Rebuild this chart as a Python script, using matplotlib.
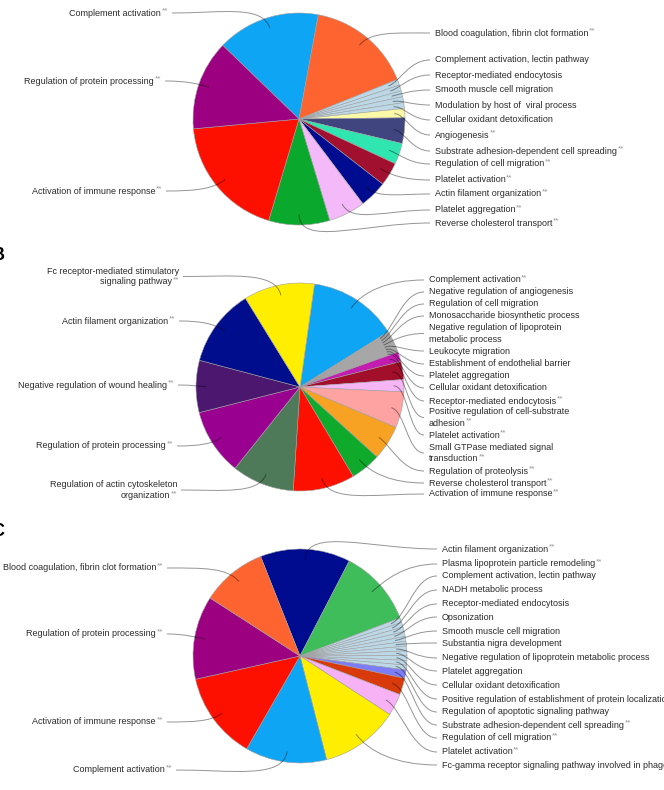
import numpy as np
import matplotlib
matplotlib.use('Agg')
import matplotlib.pyplot as plt
from matplotlib.path import Path
from matplotlib.patches import PathPatch

W, H = 664, 790

##################################
#            DADOS               #
##################################

## painel A
names_a = ['Complement activation', 'Blood coagulation, fibrin clot formation',
           'Complement activation, lectin pathway', 'Receptor-mediated endocytosis',
           'Smooth muscle cell migration', 'Modulation by host of  viral process',
           'Cellular oxidant detoxification', 'Angiogenesis',
           'Substrate adhesion-dependent cell spreading', 'Regulation of cell migration',
           'Platelet activation', 'Actin filament organization', 'Platelet aggregation',
           'Reverse cholesterol transport', 'Activation of immune response',
           'Regulation of protein processing']
vals_a = [15.7, 16.0, 0.9, 0.9, 0.9, 0.9, 0.9, 1.4, 3.9, 3.2, 3.6, 4.2, 5.6, 9.3, 18.9, 13.7]
sig_a = [1, 1, 0, 0, 0, 0, 0, 1, 1, 1, 1, 1, 1, 1, 1, 1]
cols_a = ['#0ea6f4', '#fe6430', '#bcd7e6', '#bcd7e6', '#bcd7e6', '#bcd7e6', '#bcd7e6',
          '#fbf8a8', '#40457f', '#2fe6b0', '#a1102e', '#000c8f', '#f3b9f8', '#0aa82c',
          '#fe1000', '#9c0080']

## painel B
names_b = ['Complement activation', 'Negative regulation of angiogenesis',
           'Regulation of cell migration', 'Monosaccharide biosynthetic process',
           'Negative regulation of lipoprotein\nmetabolic process', 'Leukocyte migration',
           'Establishment of endothelial barrier', 'Platelet aggregation',
           'Cellular oxidant detoxification', 'Receptor-mediated endocytosis',
           'Positive regulation of cell-substrate\nadhesion', 'Platelet activation',
           'Small GTPase mediated signal\ntransduction', 'Regulation of proteolysis',
           'Reverse cholesterol transport', 'Activation of immune response',
           'Regulation of actin cytoskeleton\norganization', 'Regulation of protein processing',
           'Negative regulation of wound healing', 'Actin filament organization',
           'Fc receptor-mediated stimulatory\nsignaling pathway']
vals_b = [13.9, 0.43, 0.43, 0.43, 0.43, 0.43, 0.43, 0.43, 0.43, 1.5, 2.8, 1.9, 5.6, 5.4,
          4.7, 9.6, 9.7, 10.3, 8.1, 12.1, 11.0]
sig_b = [1, 0, 0, 0, 0, 0, 0, 0, 0, 1, 1, 1, 1, 1, 1, 1, 1, 1, 1, 1, 1]
cols_b = ['#0ea6f4', '#a9a9a9', '#a9a9a9', '#a9a9a9', '#a9a9a9', '#a9a9a9', '#a9a9a9',
          '#a9a9a9', '#a9a9a9', '#c21cb0', '#a10f2b', '#f6b6f6', '#ffa2a2', '#f8a224',
          '#0faa2c', '#fe1000', '#4e7a5a', '#9a0090', '#4c176e', '#000d8c', '#ffee00']

## painel C
names_c = ['Actin filament organization', 'Plasma lipoprotein particle remodeling',
           'Complement activation, lectin pathway', 'NADH metabolic process',
           'Receptor-mediated endocytosis', 'Opsonization', 'Smooth muscle cell migration',
           'Substantia nigra development', 'Negative regulation of lipoprotein metabolic process',
           'Platelet aggregation', 'Cellular oxidant detoxification',
           'Positive regulation of establishment of protein localization',
           'Regulation of apoptotic signaling pathway',
           'Substrate adhesion-dependent cell spreading', 'Regulation of cell migration',
           'Platelet activation', 'Fc-gamma receptor signaling pathway involved in phagocytosis',
           'Complement activation', 'Activation of immune response',
           'Regulation of protein processing', 'Blood coagulation, fibrin clot formation']
vals_c = [13.5, 11.5, 0.71, 0.71, 0.71, 0.71, 0.71, 0.71, 0.71, 0.71, 0.71, 0.71, 0.71,
          1.25, 2.5, 3.3, 11.7, 12.2, 13.1, 12.5, 9.8]
sig_c = [1, 1, 0, 0, 0, 0, 0, 0, 0, 0, 0, 0, 0, 1, 1, 1, 0, 1, 1, 1, 1]
cols_c = ['#000c8f', '#3fbd5a', '#bcd7e6', '#bcd7e6', '#bcd7e6', '#bcd7e6', '#bcd7e6',
          '#bcd7e6', '#bcd7e6', '#bcd7e6', '#bcd7e6', '#bcd7e6', '#bcd7e6', '#7b7cf6',
          '#d83a0c', '#f6b2f4', '#ffee00', '#0ea6f4', '#fe1000', '#9c0080', '#fe6430']

##################################
#           LAYOUT               #
##################################

# (centro x, centro y, raio, angulo inicial) em pixels da imagem
pie_a = (299, 119, 106, 136)
pie_b = (300, 387, 104, 82)
pie_c = (300, 656, 107, 111.6)

# lado do rotulo e altura (y da imagem)
side_a = 'L' + 'R' * 13 + 'LL'
y_a = [13, 33, 60, 75, 90, 105, 120, 135, 151, 164, 180, 194, 210, 223, 191, 81]
xl_a = [168, 0, 0, 0, 0, 0, 0, 0, 0, 0, 0, 0, 0, 0, 162, 161]

side_b = 'R' * 16 + 'L' * 5
y_b = [280, 292, 304, 316, 333.5, 351, 364, 376, 388, 401, 417.5, 435, 453, 471, 483, 494,
       490, 446, 385, 321, 276.5]
xl_b = [0] * 16 + [177, 173, 174, 175, 179]

side_c = 'R' * 17 + 'L' * 4
y_c = [549, 564, 576, 590, 604, 617, 631, 643, 658, 671, 685, 699, 712, 725, 738, 752, 765,
       770, 722, 634, 568]
xl_c = [0] * 17 + [172, 163, 163, 163]

xr_a, xr_b, xr_c = 435, 429, 442

FONT = 'Liberation Sans'
FS = 6.5
TXT = '#2b2b2b'
STAR = '#959595'
LSP = 11


def fy(y):
    return H - y


def leader(ax, x0, y0, x3, y3, ux, uy):
    d = np.hypot(x3 - x0, y3 - y0)
    c1 = (x0 + (x3 - x0) * 0.5, y0)
    c2 = (x3 + ux * d * 0.25, y3 + uy * d * 0.25)
    path = Path([(x0, y0), c1, c2, (x3, y3)],
                [Path.MOVETO, Path.CURVE4, Path.CURVE4, Path.CURVE4])
    ax.add_patch(PathPatch(path, facecolor='none', edgecolor='black', alpha=0.42, lw=0.7))


def label(ax, x, yc, name, sig, side):
    lines = name.split('\n')
    n = len(lines)
    for i, ln in enumerate(lines):
        yi = fy(yc + (i - (n - 1) / 2) * LSP)
        last = (i == n - 1) and sig
        if side == 'R':
            t = ax.text(x, yi, ln, ha='left', va='center', fontsize=FS,
                        family=FONT, color=TXT)
            if last:
                ax.annotate('**', xy=(1, 0.5), xycoords=t, xytext=(0.5, 2),
                            textcoords='offset pixels', ha='left', va='center',
                            fontsize=6, family=FONT, color=STAR)
        else:
            if last:
                s = ax.text(x, yi + 2, '**', ha='right', va='center', fontsize=6,
                            family=FONT, color=STAR)
                ax.annotate(ln, xy=(0, 0.5), xycoords=s, xytext=(-0.5, -2),
                            textcoords='offset pixels', ha='right', va='center',
                            fontsize=FS, family=FONT, color=TXT)
            else:
                ax.text(x, yi, ln, ha='right', va='center', fontsize=FS,
                        family=FONT, color=TXT)


def panel(ax, names, vals, sig, cols, geo, sides, ys, xls, xr):
    cx, cy, r, start = geo
    wedges, _ = ax.pie(vals, colors=cols, startangle=start, counterclock=False,
                       center=(cx, fy(cy)), radius=r,
                       wedgeprops=dict(edgecolor='#a0a0a0', linewidth=0.4))
    for i, w in enumerate(wedges):
        m = np.radians((w.theta1 + w.theta2) / 2)
        ux, uy = np.cos(m), np.sin(m)
        px, py = cx + 0.9 * r * ux, fy(cy) + 0.9 * r * uy
        if sides[i] == 'R':
            leader(ax, xr - 5, fy(ys[i]), px, py, ux, uy)
            label(ax, xr, ys[i], names[i], sig[i], 'R')
        else:
            leader(ax, xls[i] + 4, fy(ys[i]), px, py, ux, uy)
            label(ax, xls[i], ys[i], names[i], sig[i], 'L')


fig = plt.figure(figsize=(W / 100, H / 100), dpi=100, facecolor='white')
ax = fig.add_axes([0, 0, 1, 1])

panel(ax, names_a, vals_a, sig_a, cols_a, pie_a, side_a, y_a, xl_a, xr_a)
panel(ax, names_b, vals_b, sig_b, cols_b, pie_b, side_b, y_b, xl_b, xr_b)
panel(ax, names_c, vals_c, sig_c, cols_c, pie_c, side_c, y_c, xl_c, xr_c)

# letras dos paineis (cortadas na borda esquerda, como no original)
for let, xx, yy in [('A', -9, -6), ('B', -8, 256), ('C', -9, 532)]:
    ax.text(xx, fy(yy), let, ha='left', va='center', fontsize=13, fontweight='bold',
            family=FONT, color='black')

ax.set_xlim(0, W)
ax.set_ylim(0, H)
ax.set_aspect('equal')
ax.axis('off')

fig.savefig('out.png', dpi=100, facecolor='white')
